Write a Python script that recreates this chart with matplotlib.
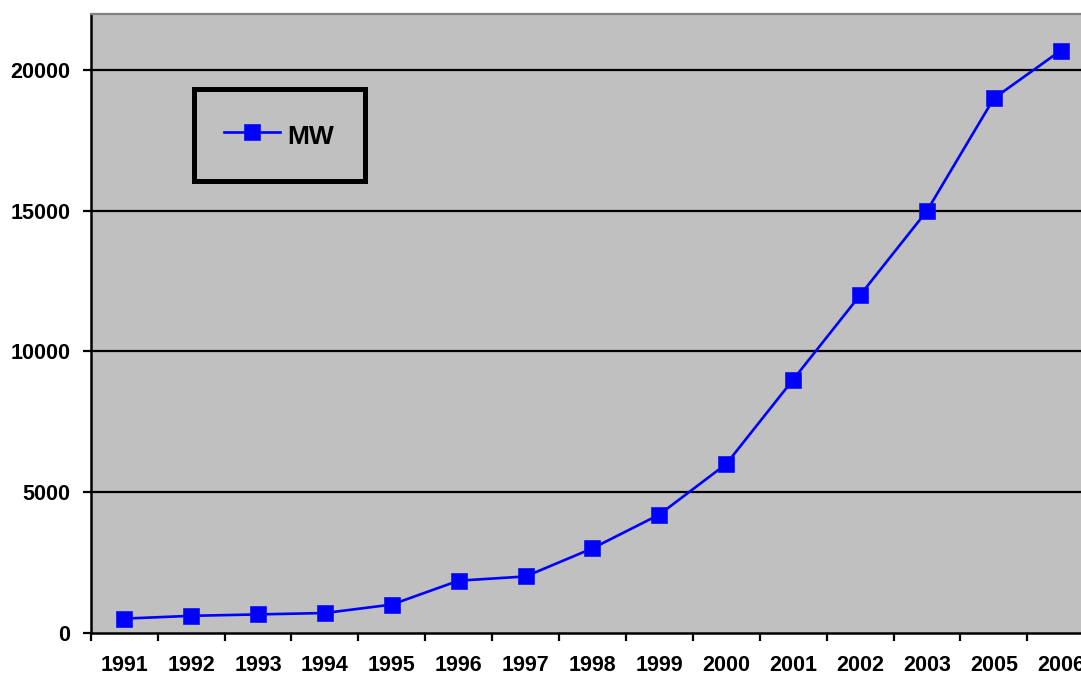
import matplotlib
matplotlib.use("Agg")
import matplotlib.pyplot as plt

years = ["1991", "1992", "1993", "1994", "1995", "1996", "1997", "1998",
         "1999", "2000", "2001", "2002", "2003", "2005", "2006"]
mw = [500, 600, 650, 700, 1000, 1850, 2000, 3000,
      4200, 6000, 9000, 12000, 15000, 19000, 20700]
y_ticks = [0, 5000, 10000, 15000, 20000]

plt.rcParams["font.family"] = ["Liberation Sans", "DejaVu Sans"]
plt.rcParams["font.weight"] = "bold"

W, H = 1081, 675
fig = plt.figure(figsize=(W / 100, H / 100), dpi=100)
fig.patch.set_facecolor("white")

left, right, top, bottom = 90.7, 1094.2, 14.0, 632.7
ax = fig.add_axes([left / W, 1 - bottom / H, (right - left) / W, (bottom - top) / H])
ax.set_facecolor("#C0C0C0")

x = list(range(len(years)))
ax.plot(x, mw, color="#0000FF", linewidth=1.9, marker="s", markersize=11.5,
        markerfacecolor="#0000FF", markeredgecolor="#1010F0", markeredgewidth=0.5,
        label="MW", zorder=3, clip_on=False)

ax.set_xlim(-0.5, len(years) - 0.5)
ax.set_ylim(0, 22000)

ax.set_yticks(y_ticks)
ax.set_yticklabels([str(v) for v in y_ticks])
ax.set_xticks(x)
ax.set_xticklabels(years)
ax.set_xticks([i - 0.5 for i in range(len(years) + 1)], minor=True)

ax.tick_params(axis="x", which="major", length=0, pad=16, labelsize=15.5)
ax.tick_params(axis="x", which="minor", length=5.5, width=1.6, direction="out", color="black")
ax.tick_params(axis="y", which="major", length=5.5, width=1.6, direction="out",
               pad=9, labelsize=15.5, color="black")
for lab in ax.get_xticklabels() + ax.get_yticklabels():
    lab.set_fontweight("bold")

for v in y_ticks[1:]:
    ax.axhline(v, color="black", linewidth=1.6, zorder=1)

ax.spines["left"].set_color("black")
ax.spines["left"].set_linewidth(1.8)
ax.spines["bottom"].set_color("black")
ax.spines["bottom"].set_linewidth(1.8)
ax.spines["top"].set_color("#808080")
ax.spines["top"].set_linewidth(1.6)
ax.spines["right"].set_color("#808080")
ax.spines["right"].set_linewidth(1.6)

leg = ax.legend(loc="upper left", bbox_to_anchor=(193.8 / W, 1 - 89.0 / H),
                bbox_transform=fig.transFigure, borderaxespad=0,
                fancybox=False, framealpha=1, facecolor="#C0C0C0",
                edgecolor="black", prop={"size": 19, "weight": "bold"},
                handlelength=2.1, handletextpad=0.3, borderpad=1.15,
                handleheight=1.45)
leg.get_frame().set_linewidth(3.6)

fig.savefig("out.png", dpi=100)
